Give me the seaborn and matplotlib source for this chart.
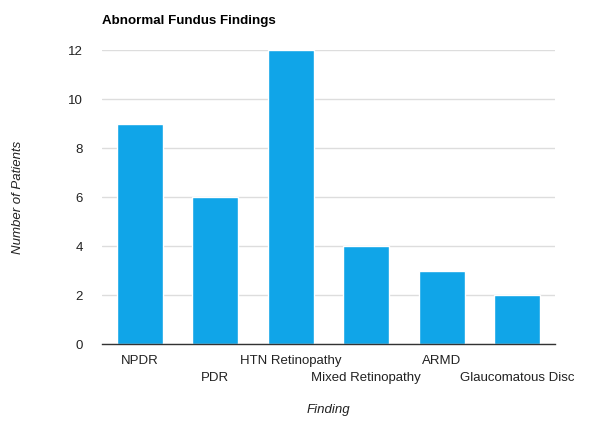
import seaborn as sns
import matplotlib.pyplot as plt
import pandas as pd

# data
findings = ['NPDR', 'PDR', 'HTN Retinopathy', 'Mixed Retinopathy', 'ARMD', 'Glaucomatous Disc']
patients = [9, 6, 12, 4, 3, 2]
y_ticks = [0, 2, 4, 6, 8, 10, 12]

df = pd.DataFrame({'Finding': findings, 'Patients': patients})

sns.set_theme(style='white')
plt.rcParams['font.family'] = ['Liberation Sans', 'DejaVu Sans']

fig = plt.figure(figsize=(5.98, 4.22), dpi=100)
ax = fig.add_axes([0.1706, 0.1848, 0.7575, 0.6967])

sns.barplot(x='Finding', y='Patients', data=df, color='#10A5E8',
            width=0.61, saturation=1, ax=ax)

ax.set_ylim(0, 12)
ax.set_yticks(y_ticks)
ax.set_yticklabels([str(t) for t in y_ticks], fontsize=9.5, color='#222222')
ax.yaxis.grid(True, color='#dddddd', linewidth=1)
ax.set_axisbelow(True)
ax.tick_params(axis='y', length=0, pad=14)
ax.tick_params(axis='x', length=0, pad=6)

# staggered category labels
ax.set_xticks(range(len(findings)))
ax.set_xticklabels([])
for i, name in enumerate(findings):
    ax.annotate(name, xy=(i, 0), xycoords=('data', 'axes fraction'),
                xytext=(0, -12 if i % 2 == 0 else -24.5), textcoords='offset points',
                ha='center', va='center', fontsize=9.5, color='#222222')

for side in ['top', 'right', 'left']:
    ax.spines[side].set_visible(False)
ax.spines['bottom'].set_color('#333333')
ax.spines['bottom'].set_linewidth(1)
ax.set_xlim(-0.5, len(findings) - 0.5)

ax.set_xlabel('')
ax.set_ylabel('')
fig.text(0.5 * (0.1706 + 0.928), 1 - 410 / 422, 'Finding', ha='center', va='center',
         fontsize=9.5, style='italic', color='#222222')
fig.text(18 / 598, 1 - 197 / 422, 'Number of Patients', ha='center', va='center',
         rotation=90, fontsize=9.5, style='italic', color='#222222')
fig.text(102 / 598, 1 - 21 / 422, 'Abnormal Fundus Findings', ha='left', va='center',
         fontsize=9.6, fontweight='bold', color='#000000')

fig.savefig('out.png', dpi=100)
